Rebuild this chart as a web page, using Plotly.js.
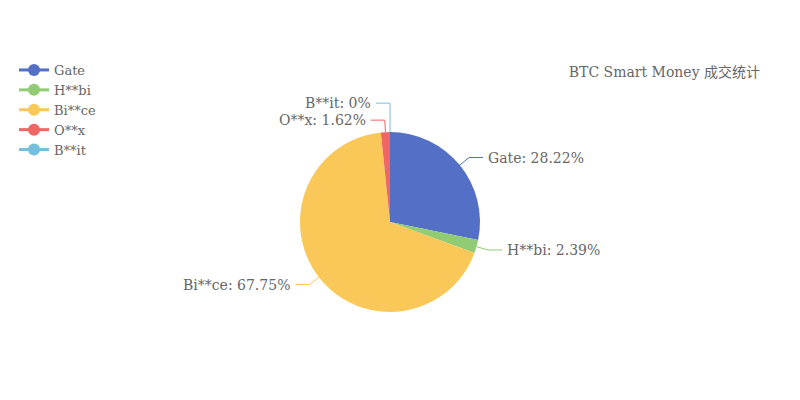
<!DOCTYPE html>
<html>
<head>
<meta charset="utf-8">
<script src="https://cdn.plot.ly/plotly-3.0.1.min.js"></script>
<style>html,body{margin:0;padding:0;background:#fff;}#chart{width:800px;height:400px;}</style>
</head>
<body>
<div id="chart"></div>
<script>
const categories = ['Gate', 'H**bi', 'Bi**ce', 'O**x', 'B**it'];
const shares = [28.22, 2.39, 67.75, 1.62, 0];
const colors = ['#5470c6', '#91cc75', '#fac858', '#ee6666', '#73c0de'];
const chartTitle = 'BTC Smart Money 成交统计';

const W = 800, H = 400;
const FONT = '"DejaVu Serif", "Noto Sans CJK SC", serif';
const cx = 390, cy = 222, r = 90;
const L1 = 12, L2 = 14, GAP = 3, SPACING = 17;

const px = x => x / W;
const py = y => 1 - y / H;

// pie
const pie = {
  type: 'pie',
  labels: categories,
  values: shares,
  sort: false,
  direction: 'clockwise',
  rotation: 0,
  textinfo: 'none',
  hoverinfo: 'label+percent',
  marker: {colors: colors, line: {width: 0}},
  showlegend: false,
  domain: {x: [px(cx - r), px(cx + r)], y: [py(cy + r), py(cy - r)]}
};

// legend entries (line + circle icons)
const legendTraces = categories.map((c, i) => ({
  type: 'scatter', mode: 'lines+markers', x: [null], y: [null], name: c,
  line: {color: colors[i], width: 3}, marker: {color: colors[i], size: 12},
  hoverinfo: 'skip', showlegend: true
}));

// label layout derived from the data
const total = shares.reduce((a, b) => a + b, 0);
let cum = 0;
const items = shares.map((v, i) => {
  const mid = (cum + v / 2) / total;
  cum += v;
  const th = 2 * Math.PI * mid;
  const s = Math.sin(th), c = Math.cos(th);
  return {
    i, side: s >= 0 ? 1 : -1,
    ex: cx + r * s, ey: cy - r * c,
    x: cx + (r + L1) * s, y: cy - (r + L1) * c
  };
});
[1, -1].forEach(side => {
  const g = items.filter(d => d.side === side).sort((a, b) => a.y - b.y);
  for (let k = g.length - 2; k >= 0; k--) {
    if (g[k + 1].y - g[k].y < SPACING) g[k].y = g[k + 1].y - SPACING;
  }
});

const shapes = items.map(d => {
  const qx = d.x + d.side * L2;
  return {
    type: 'path', xref: 'paper', yref: 'paper',
    path: `M ${px(d.ex)},${py(d.ey)} L ${px(d.x)},${py(d.y)} L ${px(qx)},${py(d.y)}`,
    line: {color: colors[d.i], width: 1}
  };
});
const annotations = items.map(d => {
  const qx = d.x + d.side * L2;
  return {
    xref: 'paper', yref: 'paper', showarrow: false,
    x: px(qx + d.side * GAP), y: py(d.y),
    xanchor: d.side > 0 ? 'left' : 'right', yanchor: 'middle',
    text: categories[d.i] + ': ' + shares[d.i] + '%',
    font: {family: FONT, size: 14, color: '#666'}
  };
});

const layout = {
  width: W, height: H,
  margin: {l: 0, r: 0, t: 0, b: 0},
  paper_bgcolor: '#fff', plot_bgcolor: '#fff',
  title: {text: chartTitle, x: 0.95, xanchor: 'right', y: py(72), yanchor: 'middle',
          font: {family: FONT, size: 14, color: '#666'}},
  xaxis: {visible: false}, yaxis: {visible: false},
  showlegend: true,
  legend: {x: px(14), xanchor: 'left', y: py(55), yanchor: 'top',
           font: {family: FONT, size: 13, color: '#666'},
           itemwidth: 30, tracegroupgap: 0, bgcolor: 'rgba(0,0,0,0)'},
  shapes: shapes,
  annotations: annotations
};

Plotly.newPlot('chart', [pie].concat(legendTraces), layout, {displayModeBar: false});
</script>
</body>
</html>
